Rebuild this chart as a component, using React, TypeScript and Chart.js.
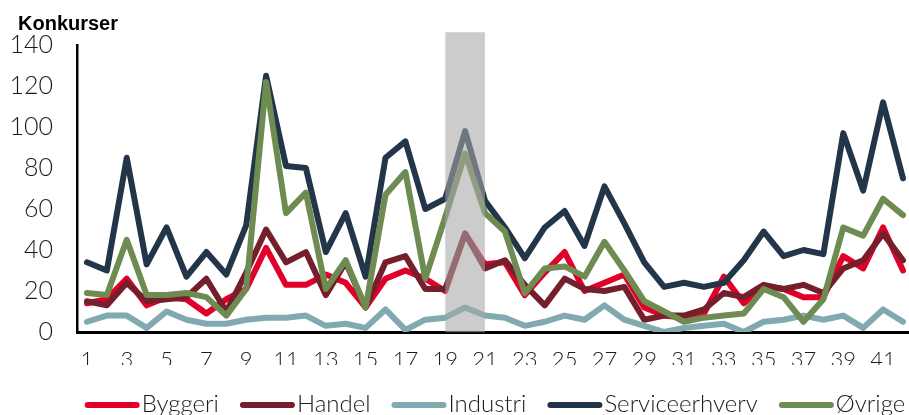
import React, { useEffect, useRef } from "react";
import { Chart, registerables } from "chart.js";

Chart.register(...registerables);

const periods = [
  "1", "2", "3", "4", "5", "6", "7", "8", "9", "10",
  "11", "12", "13", "14", "15", "16", "17", "18", "19", "20",
  "21", "22", "23", "24", "25", "26", "27", "28", "29", "30",
  "31", "32", "33", "34", "35", "36", "37", "38", "39", "40",
  "41", "42",
];

const byggeri = [14, 16, 26, 13, 17, 16, 9, 16, 21, 41, 23, 23, 28, 24, 12, 26, 30, 26, 20, 48, 33, 34, 18, 29, 39, 20, 24, 28, 12, 8, 7, 9, 27, 14, 22, 21, 17, 17, 37, 31, 51, 30];
const handel = [15, 13, 24, 15, 16, 17, 26, 10, 29, 50, 34, 39, 18, 34, 12, 34, 37, 21, 21, 48, 31, 35, 23, 13, 26, 21, 20, 22, 6, 8, 8, 11, 19, 17, 23, 21, 23, 19, 31, 35, 48, 35];
const industri = [5, 8, 8, 2, 10, 6, 4, 4, 6, 7, 7, 8, 3, 4, 2, 11, 1, 6, 7, 12, 8, 7, 3, 5, 8, 6, 13, 6, 3, 0, 2, 3, 4, 0, 5, 6, 8, 6, 8, 2, 11, 5];
const serviceerhverv = [34, 30, 85, 33, 51, 27, 39, 28, 52, 125, 81, 80, 39, 58, 27, 85, 93, 60, 65, 98, 64, 51, 36, 51, 59, 42, 71, 53, 34, 22, 24, 22, 24, 35, 49, 37, 40, 38, 97, 69, 112, 75];
const ovrige = [19, 18, 45, 18, 18, 19, 17, 8, 21, 122, 58, 68, 21, 35, 12, 67, 78, 26, 56, 87, 58, 49, 19, 31, 32, 27, 44, 30, 15, 10, 5, 7, 8, 9, 21, 17, 5, 16, 51, 47, 65, 57];

const highlightPeriod = "20";
const highlightTop = 146;

const seriesNames = ["Byggeri", "Handel", "Industri", "Serviceerhverv", "Øvrige"];
const seriesColors = ["#e2002a", "#761f2c", "#80aab0", "#233649", "#6e8b51"];

const yTicks = { min: 0, max: 140, step: 20 };
const titleText = "Konkurser";

const FONT = "Lato, 'Open Sans', sans-serif";

export default function App() {
  const ref = useRef<HTMLCanvasElement | null>(null);

  useEffect(() => {
    if (!ref.current) return;
    const seriesData = [byggeri, handel, industri, serviceerhverv, ovrige];
    const lineSets = seriesNames.map((name, i) => ({
      type: "line" as const,
      label: name,
      data: seriesData[i],
      borderColor: seriesColors[i],
      backgroundColor: seriesColors[i],
      borderWidth: 6,
      pointRadius: 0,
      tension: 0,
      borderCapStyle: "round" as const,
      borderJoinStyle: "round" as const,
      order: seriesNames.length - i,
    }));
    const bandData = periods.map((p) => (p === highlightPeriod ? highlightTop : null));

    const legendPlugin = {
      id: "customDecor",
      afterDraw(chart: any) {
        const ctx = chart.ctx;
        ctx.save();
        ctx.fillStyle = "#000";
        ctx.font = "bold 20px 'Liberation Sans', Arial, sans-serif";
        ctx.textBaseline = "alphabetic";
        ctx.textAlign = "left";
        ctx.fillText(titleText, 18, 30);

        ctx.font = `300 24px ${FONT}`;
        const sw = 55;
        const gap = 2;
        const spacing = 21;
        const widths = seriesNames.map((n) => ctx.measureText(n).width);
        const total = widths.reduce((a, w) => a + sw + gap + w, 0) + spacing * (seriesNames.length - 1);
        const ca = chart.chartArea;
        let x = (ca.left + ca.right) / 2 - total / 2;
        const yc = 405;
        seriesNames.forEach((n, i) => {
          ctx.strokeStyle = seriesColors[i];
          ctx.lineWidth = 6;
          ctx.lineCap = "round";
          ctx.beginPath();
          ctx.moveTo(x + 3, yc);
          ctx.lineTo(x + sw - 3, yc);
          ctx.stroke();
          ctx.fillStyle = "#1a1a1a";
          ctx.fillText(n, x + sw + gap, 412);
          x += sw + gap + widths[i] + spacing;
        });
        ctx.restore();
      },
    };

    const chart = new Chart(ref.current, {
      type: "line",
      data: {
        labels: periods,
        datasets: [
          ...lineSets,
          {
            type: "bar" as const,
            label: "band",
            data: bandData,
            backgroundColor: "rgba(167,167,167,0.58)",
            borderWidth: 0,
            barThickness: 39,
            clip: false as any,
            order: 0,
          } as any,
        ],
      },
      options: {
        responsive: false,
        animation: false,
        devicePixelRatio: 1,
        layout: { padding: { left: 0, right: 1, top: 45, bottom: 50 } },
        plugins: {
          legend: { display: false },
          tooltip: { enabled: false },
          title: { display: false },
        },
        scales: {
          x: {
            type: "category",
            offset: true,
            grid: { display: false, drawTicks: false },
            border: { display: true, color: "#000", width: 3 },
            ticks: {
              autoSkip: false,
              maxRotation: 0,
              padding: 15,
              color: "#1a1a1a",
              font: { family: FONT, size: 22, weight: 300 as any },
              callback: (_v: any, idx: number) => (idx % 2 === 0 ? periods[idx] : ""),
            },
            afterFit: (s: any) => {
              s.height = 33;
            },
          },
          y: {
            min: yTicks.min,
            max: yTicks.max,
            grid: { display: false, drawTicks: false },
            border: { display: true, color: "#000", width: 2.5 },
            ticks: {
              stepSize: yTicks.step,
              padding: 24,
              color: "#1a1a1a",
              font: { family: FONT, size: 25, weight: 300 as any },
            },
            afterFit: (s: any) => {
              s.width = 77;
            },
          },
        },
      },
      plugins: [legendPlugin],
    });
    return () => chart.destroy();
  }, []);

  return (
    <div style={{ position: "absolute", left: 0, top: 0, width: 909, height: 415, overflow: "hidden", background: "#fff" }}>
      <canvas ref={ref} width={918} height={415} style={{ width: 918, height: 415, display: "block" }} />
    </div>
  );
}
